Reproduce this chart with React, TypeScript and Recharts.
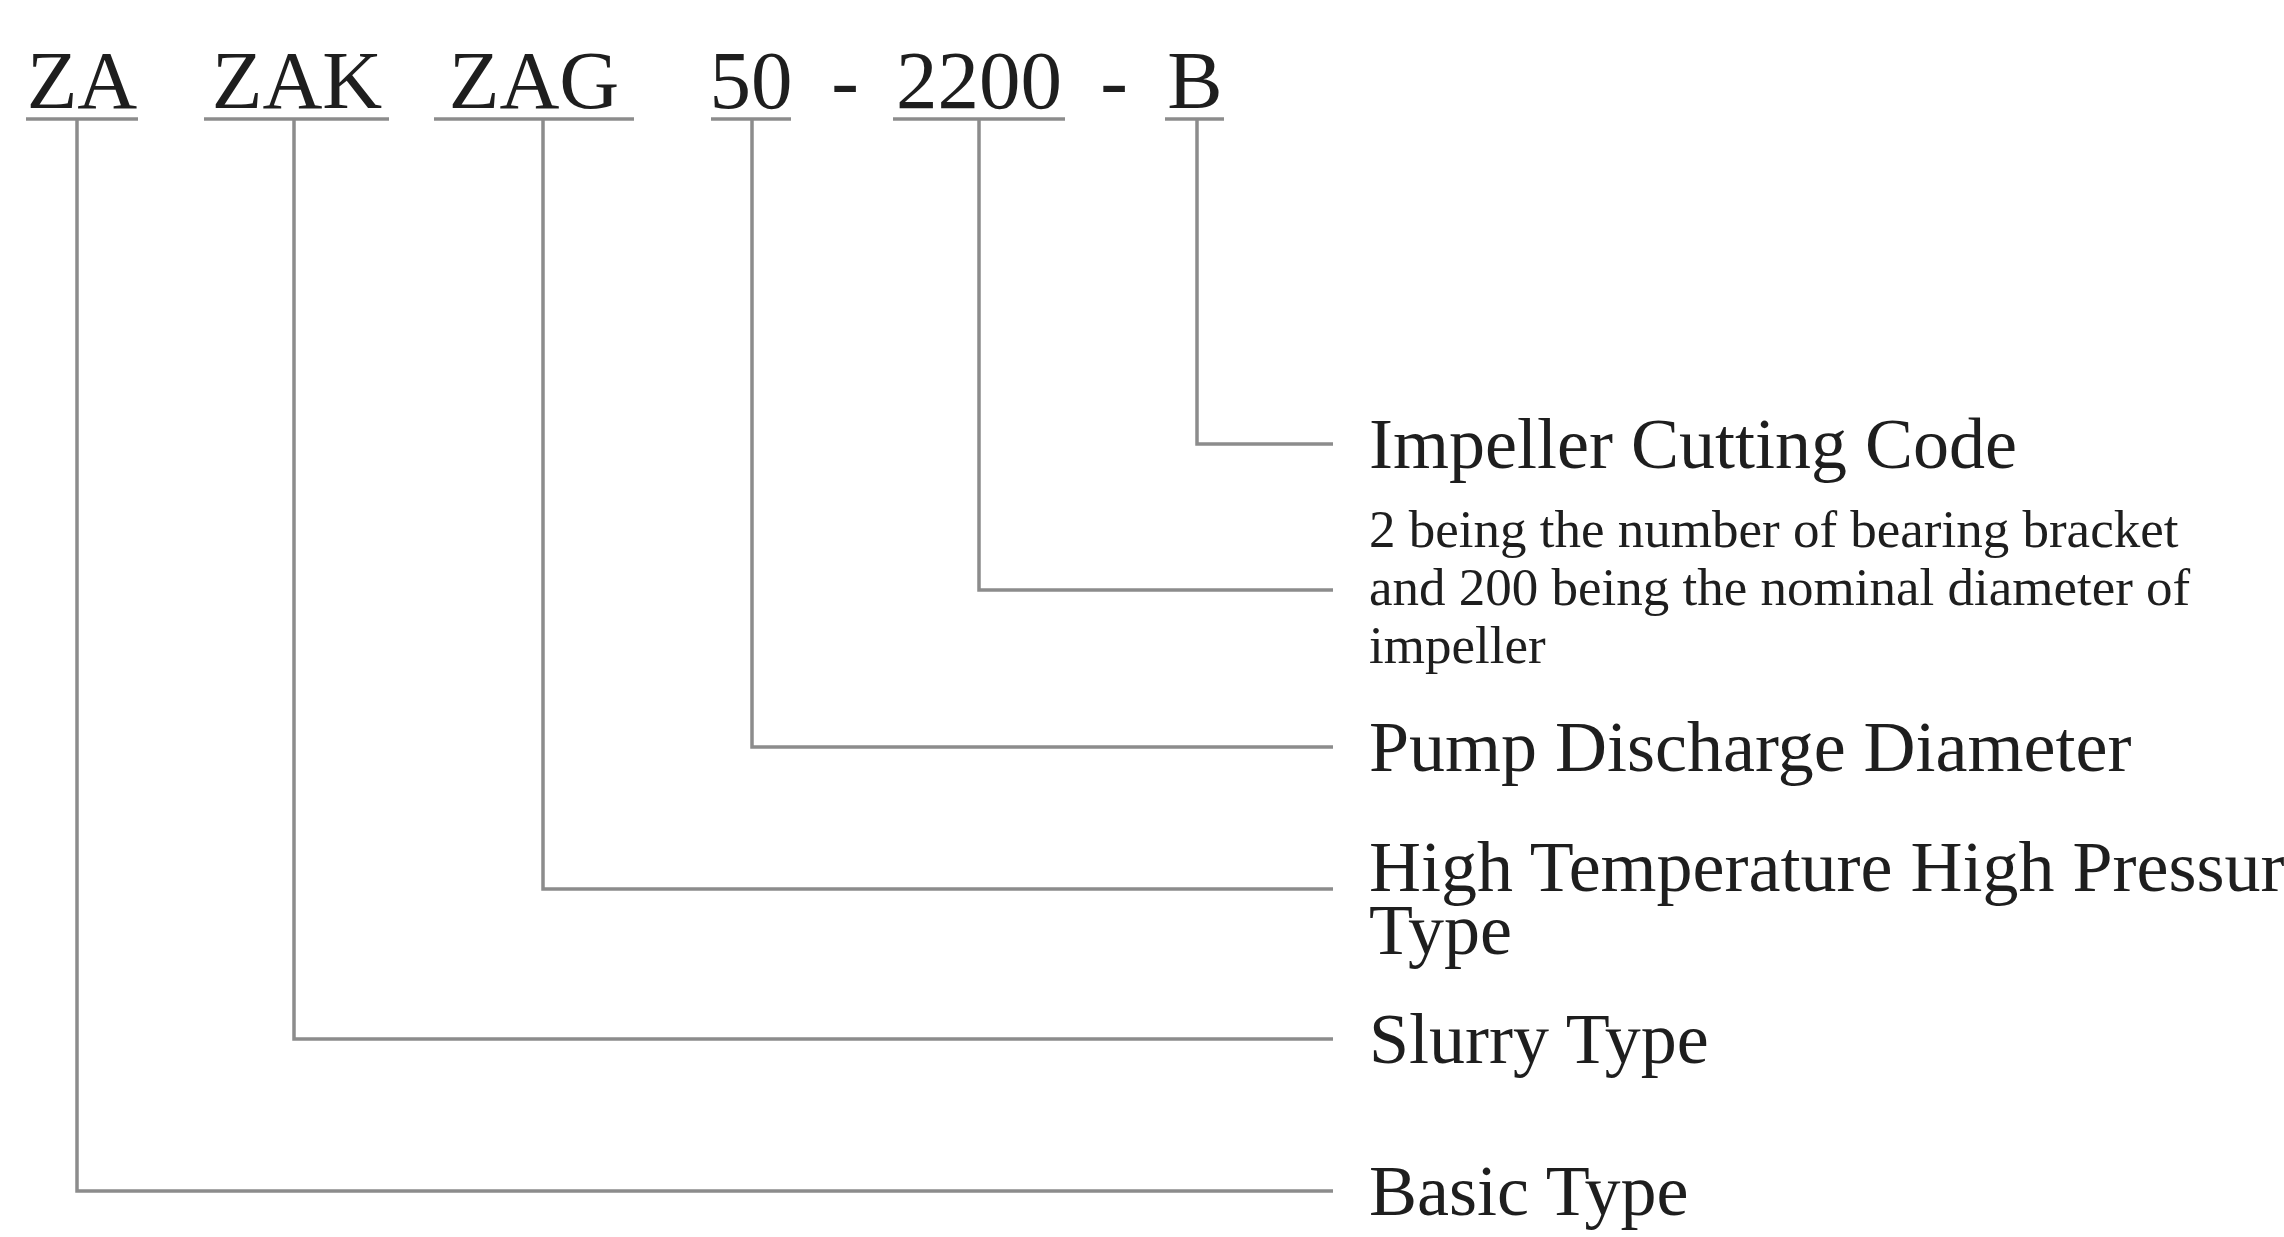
import { ComposedChart, Line, Scatter, XAxis, YAxis } from "recharts";

// model code pieces across the top (diagram units)
const codeParts = ["ZA", "ZAK", "ZAG", "50", "-", "2200", "-", "B"];
const codeCenters = [82, 297, 534, 751, 845, 979, 1114, 1195];
const codeBaseline = 108;

// underline spans under each real code part (dashes have none)
const underlineFrom = [26, 204, 434, 711, 893, 1165];
const underlineTo = [138, 389, 634, 791, 1065, 1224];
const underlineY = 119;

// elbow connectors: drop from the code, then run right to the label column
const dropX = [77, 294, 543, 752, 979, 1197];
const levelY = [1191, 1039, 889, 747, 590, 444];
const connectorEnd = 1333;
const labelX = 1369;

const labelLines = [
  ["Basic Type"],
  ["Slurry Type"],
  ["High Temperature High Pressure", "Type"],
  ["Pump Discharge Diameter"],
  [
    "2 being the number of bearing bracket",
    "and 200 being the nominal diameter of",
    "impeller",
  ],
  ["Impeller Cutting Code"],
];
const labelIsNote = [false, false, false, false, true, false];

const W = 2284;
const H = 1237;
const LINE = "#8c8c8c";
const INK = "#1e1e1e";
const FONT = '"Liberation Serif", "DejaVu Serif", "Times New Roman", serif';

const codeData = codeParts.map((text, i) => ({
  x: codeCenters[i],
  y: codeBaseline,
  text,
}));

const labelData = labelLines.map((lines, i) => ({
  x: labelX,
  y: levelY[i],
  lines,
  note: labelIsNote[i],
}));

function CodeText(props: any) {
  const { cx, cy, payload } = props;
  return (
    <text
      x={cx}
      y={cy}
      textAnchor="middle"
      fontFamily={FONT}
      fontSize={83}
      fill={INK}
    >
      {payload.text}
    </text>
  );
}

function LabelText(props: any) {
  const { cx, cy, payload } = props;
  const lines: string[] = payload.lines;
  if (payload.note) {
    // three-line note, middle line centred on the connector
    return (
      <text x={cx} fontFamily={FONT} fontSize={53} fill={INK}>
        {lines.map((l, k) => (
          <tspan key={k} x={cx} y={cy + 15 + (k - 1) * 58}>
            {l}
          </tspan>
        ))}
      </text>
    );
  }
  const first = lines.length > 1 ? cy + 2 : cy + 24;
  return (
    <text x={cx} fontFamily={FONT} fontSize={72} fill={INK}>
      {lines.map((l, k) => (
        <tspan key={k} x={cx} y={first + k * 63}>
          {l}
        </tspan>
      ))}
    </text>
  );
}

export default function App() {
  return (
    <div style={{ position: "absolute", left: 0, top: 0, background: "#fff" }}>
      <ComposedChart
        width={W}
        height={H}
        margin={{ top: 0, right: 0, bottom: 0, left: 0 }}
      >
        <XAxis type="number" dataKey="x" domain={[0, W]} hide />
        <YAxis type="number" dataKey="y" domain={[0, H]} reversed hide />

        {underlineFrom.map((x0, i) => (
          <Line
            key={`u${i}`}
            data={[
              { x: x0, y: underlineY },
              { x: underlineTo[i], y: underlineY },
            ]}
            dataKey="y"
            type="linear"
            stroke={LINE}
            strokeWidth={3.5}
            dot={false}
            activeDot={false}
            isAnimationActive={false}
          />
        ))}

        {dropX.map((x0, i) => (
          <Line
            key={`c${i}`}
            data={[
              { x: x0, y: underlineY },
              { x: x0, y: levelY[i] },
              { x: connectorEnd, y: levelY[i] },
            ]}
            dataKey="y"
            type="linear"
            stroke={LINE}
            strokeWidth={3.5}
            dot={false}
            activeDot={false}
            isAnimationActive={false}
          />
        ))}

        <Scatter
          data={codeData}
          dataKey="y"
          shape={CodeText}
          isAnimationActive={false}
        />
        <Scatter
          data={labelData}
          dataKey="y"
          shape={LabelText}
          isAnimationActive={false}
        />
      </ComposedChart>
    </div>
  );
}
